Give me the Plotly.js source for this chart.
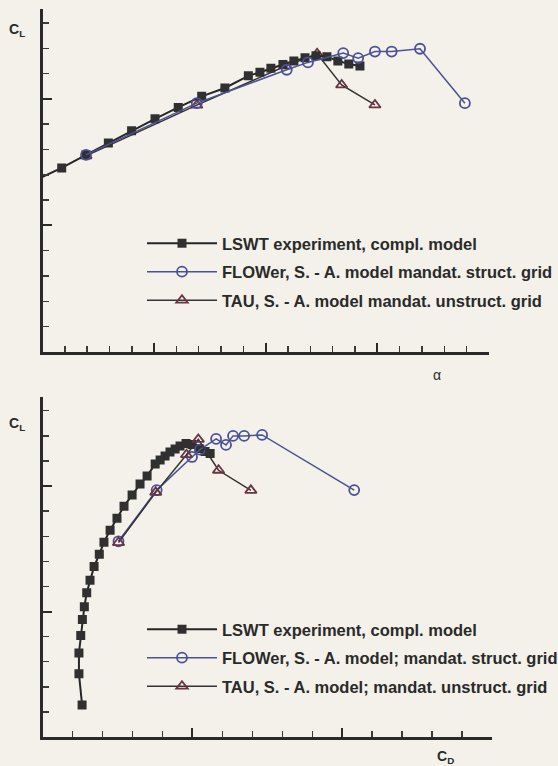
<!DOCTYPE html>
<html>
<head>
<meta charset="utf-8">
<script src="https://cdn.plot.ly/plotly-3.0.1.min.js"></script>
<style>html,body{margin:0;padding:0;background:#f3f1e9;}#chart{width:558px;height:766px;}</style>
</head>
<body>
<div id="chart"></div>
<script>
// ---------- Top panel: CL vs alpha ----------
const lswtAlpha = [-1.0, 0.86, 1.95, 2.95, 3.99, 5.04, 6.08, 7.13, 8.17, 9.22, 9.74, 10.23, 10.77, 11.26, 11.76, 12.25, 12.74, 13.23, 13.72, 14.22];
const lswtCL    = [0.650, 0.727, 0.779, 0.826, 0.874, 0.921, 0.966, 1.010, 1.043, 1.091, 1.105, 1.121, 1.136, 1.150, 1.162, 1.170, 1.166, 1.150, 1.138, 1.130];

const flowerAlpha = [1.95, 6.91, 10.94, 11.89, 13.47, 14.14, 14.89, 15.64, 16.91, 18.92];
const flowerCL    = [0.779, 0.983, 1.115, 1.144, 1.181, 1.161, 1.187, 1.187, 1.198, 0.983];

const tauAlpha = [1.95, 6.91, 10.9, 12.3, 13.4, 14.89];
const tauCL    = [0.775, 0.975, 1.130, 1.178, 1.055, 0.976];

// ---------- Bottom panel: CL vs CD (polar) ----------
const lswtCD    = [0.0263, 0.0242, 0.0242, 0.0254, 0.0265, 0.0278, 0.0294, 0.0316, 0.0343, 0.0378, 0.0409, 0.0450, 0.0496, 0.0543, 0.0597, 0.0650, 0.0697, 0.0751, 0.0784, 0.0817, 0.0850, 0.0884, 0.0917, 0.0957, 0.0997, 0.1044, 0.1084, 0.1118];
const lswtCLp   = [0.128, 0.252, 0.335, 0.405, 0.468, 0.519, 0.575, 0.625, 0.679, 0.728, 0.776, 0.824, 0.872, 0.920, 0.964, 1.008, 1.040, 1.088, 1.104, 1.120, 1.136, 1.148, 1.160, 1.170, 1.166, 1.150, 1.138, 1.130];

const flowerCD  = [0.0506, 0.0761, 0.0997, 0.1050, 0.1158, 0.1224, 0.1271, 0.1345, 0.1465, 0.2080];
const flowerCLp = [0.780, 0.984, 1.116, 1.145, 1.188, 1.164, 1.200, 1.200, 1.204, 0.984];

const tauCD     = [0.0506, 0.0755, 0.0960, 0.1039, 0.1174, 0.1390];
const tauCLp    = [0.775, 0.975, 1.125, 1.186, 1.063, 0.983];

// ---------- Legend labels ----------
const namesTop = ['LSWT experiment, compl. model', 'FLOWer, S. - A. model mandat. struct. grid', 'TAU, S. - A. model mandat. unstruct. grid'];
const namesBot = ['LSWT experiment, compl. model', 'FLOWer, S. - A. model; mandat. struct. grid', 'TAU, S. - A. model; mandat. unstruct. grid'];

const BLACK = '#262626', BLUE = '#4b5196', TAUC = '#333333', TAUM = '#6a3444';

function lswt(x, y, xa, ya, name, leg, grp) {
  return {x, y, xaxis: xa, yaxis: ya, name, legend: leg, legendgroup: grp, legendrank: 1, type: 'scatter', mode: 'lines+markers',
    line: {color: BLACK, width: 2}, marker: {symbol: 'square', size: 9, color: '#303030', line: {width: 0}}};
}
function flower(x, y, xa, ya, name, leg, grp) {
  return {x, y, xaxis: xa, yaxis: ya, name, legend: leg, legendgroup: grp, legendrank: 2, type: 'scatter', mode: 'lines+markers',
    line: {color: BLUE, width: 1.5}, marker: {symbol: 'circle-open', size: 10, color: BLUE, line: {width: 1.8, color: BLUE}}};
}
function tau(x, y, xa, ya, name, leg, grp) {
  return {x, y, xaxis: xa, yaxis: ya, name, legend: leg, legendgroup: grp, legendrank: 3, type: 'scatter', mode: 'lines+markers',
    line: {color: TAUC, width: 1.5}, marker: {symbol: 'triangle-up-open', size: 10, color: TAUM, line: {width: 1.8, color: TAUM}}};
}

const data = [
  tau(tauAlpha, tauCL, 'x', 'y', namesTop[2], 'legend', 'a3'),
  lswt(lswtAlpha, lswtCL, 'x', 'y', namesTop[0], 'legend', 'a1'),
  flower(flowerAlpha, flowerCL, 'x', 'y', namesTop[1], 'legend', 'a2'),
  lswt(lswtCD, lswtCLp, 'x2', 'y2', namesBot[0], 'legend2', 'b1'),
  flower(flowerCD, flowerCLp, 'x2', 'y2', namesBot[1], 'legend2', 'b2'),
  tau(tauCD, tauCLp, 'x2', 'y2', namesBot[2], 'legend2', 'b3')
];

const axisStyle = {
  showline: true, linecolor: '#2a2a2a', linewidth: 2.5, mirror: false,
  ticks: 'inside', ticklen: 9, tickwidth: 2, tickcolor: '#2a2a2a',
  showticklabels: false, showgrid: false, zeroline: false, fixedrange: true
};
const minorStyle = {ticks: 'inside', ticklen: 6, tickwidth: 1.4, tickcolor: '#3a3a3a', showgrid: false};

const legFont = {family: 'Liberation Sans, Arial, sans-serif', size: 16.5, color: '#2a2a2a', weight: 'bold'};
const legBase = {bgcolor: 'rgba(0,0,0,0)', borderwidth: 0, font: legFont, itemwidth: 70, traceorder: 'grouped', tracegroupgap: 4, xanchor: 'left', yanchor: 'top', itemclick: false};

const annFont = {family: 'Liberation Sans, Arial, sans-serif', size: 14, color: '#2a2a2a', weight: 'bold'};

const layout = {
  width: 558, height: 766,
  paper_bgcolor: '#f3f1e9', plot_bgcolor: 'rgba(0,0,0,0)',
  margin: {l: 0, r: 0, t: 0, b: 0, autoexpand: false},
  showlegend: true,
  font: {family: 'Liberation Sans, Arial, sans-serif', color: '#2a2a2a'},
  xaxis: Object.assign({}, axisStyle, {domain: [42.5/558, 489/558], range: [0, 20], anchor: 'y', dtick: 5, tick0: 0, minor: Object.assign({dtick: 1}, minorStyle)}),
  yaxis: Object.assign({}, axisStyle, {domain: [1 - 352/766, 1 - 9/766], range: [0, 1.355], anchor: 'x', dtick: 0.5, tick0: 0, minor: Object.assign({dtick: 0.1}, minorStyle)}),
  xaxis2: Object.assign({}, axisStyle, {domain: [42.7/558, 492/558], range: [0, 0.3], anchor: 'y2', dtick: 0.1, tick0: 0, minor: Object.assign({dtick: 0.02}, minorStyle)}),
  yaxis2: Object.assign({}, axisStyle, {domain: [1 - 737/766, 1 - 397/766], range: [0, 1.355], anchor: 'x2', dtick: 0.5, tick0: 0, minor: Object.assign({dtick: 0.1}, minorStyle)}),
  legend: Object.assign({}, legBase, {x: 142/558, y: 1 - 226/766}),
  legend2: Object.assign({}, legBase, {x: 142/558, y: 1 - 612/766}),
  annotations: [
    {text: 'C<sub>L</sub>', xref: 'paper', yref: 'paper', x: 27/558, y: 1 - 30/766, showarrow: false, font: annFont, xanchor: 'right', yanchor: 'middle'},
    {text: 'α', xref: 'paper', yref: 'paper', x: 437/558, y: 1 - 375/766, showarrow: false, font: {family: 'Liberation Sans, Arial, sans-serif', size: 14, color: '#2a2a2a'}, xanchor: 'center', yanchor: 'middle'},
    {text: 'C<sub>L</sub>', xref: 'paper', yref: 'paper', x: 27/558, y: 1 - 424/766, showarrow: false, font: annFont, xanchor: 'right', yanchor: 'middle'},
    {text: 'C<sub>D</sub>', xref: 'paper', yref: 'paper', x: 445/558, y: 1 - 757/766, showarrow: false, font: annFont, xanchor: 'center', yanchor: 'middle'}
  ]
};

Plotly.newPlot('chart', data, layout, {displayModeBar: false, staticPlot: true});
</script>
</body>
</html>
